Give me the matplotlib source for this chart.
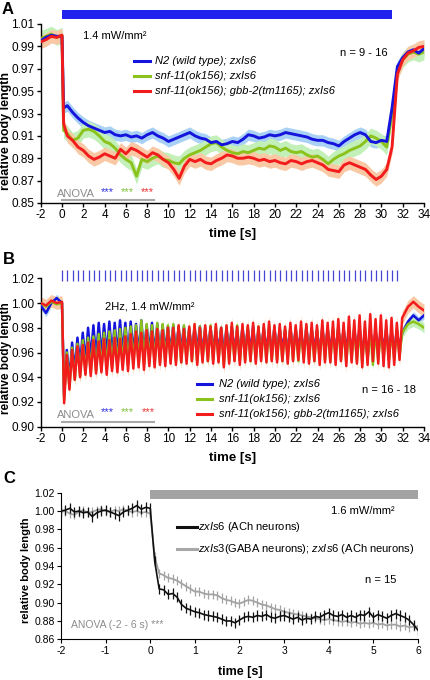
import numpy as np
import matplotlib
matplotlib.use('Agg')
import matplotlib.pyplot as plt
from matplotlib.patches import Rectangle
from matplotlib.lines import Line2D
from matplotlib.transforms import blended_transform_factory

plt.rcParams['font.family'] = ['Liberation Sans', 'DejaVu Sans']
plt.rcParams['mathtext.fontset'] = 'custom'
plt.rcParams['mathtext.rm'] = 'Liberation Sans'
plt.rcParams['mathtext.it'] = 'Liberation Sans:italic'
plt.rcParams['mathtext.bf'] = 'Liberation Sans:bold'
plt.rcParams['axes.unicode_minus'] = False

# ---------------- DATA ----------------
# Panel A: continuous light 0-31 s
stim_a = (0.0, 31.0)
time_a = np.concatenate([[-2.0, -1.5, -1.0, -0.5, 0.0, 0.15], np.arange(0.5, 34.01, 0.5)])
a_blue = [0.995, 0.998, 1.000, 0.999, 0.999, 0.935,
          0.937, 0.931, 0.926, 0.922, 0.919, 0.917, 0.915, 0.913, 0.914, 0.911,
          0.910, 0.911, 0.909, 0.910, 0.908, 0.911, 0.913, 0.910, 0.908, 0.905,
          0.907, 0.909, 0.911, 0.913, 0.910, 0.908, 0.907, 0.904, 0.905, 0.902,
          0.903, 0.905, 0.904, 0.907, 0.911, 0.910, 0.908, 0.909, 0.911, 0.910,
          0.911, 0.913, 0.912, 0.911, 0.910, 0.909, 0.907, 0.906, 0.906, 0.904,
          0.903, 0.901, 0.905, 0.908, 0.911, 0.913, 0.911, 0.905, 0.904, 0.906,
          0.905, 0.935, 0.972, 0.980, 0.985, 0.987, 0.984, 0.988]
a_green = [0.997, 0.999, 1.001, 0.998, 1.000, 0.915,
           0.912, 0.906, 0.908, 0.915, 0.916, 0.914, 0.910, 0.905, 0.903, 0.899,
           0.893, 0.889, 0.886, 0.874, 0.889, 0.887, 0.890, 0.892, 0.889, 0.888,
           0.886, 0.885, 0.890, 0.893, 0.895, 0.897, 0.900, 0.903, 0.904, 0.900,
           0.897, 0.895, 0.894, 0.896, 0.895, 0.897, 0.899, 0.898, 0.901, 0.900,
           0.897, 0.899, 0.896, 0.895, 0.896, 0.893, 0.891, 0.892, 0.889, 0.885,
           0.889, 0.892, 0.894, 0.897, 0.899, 0.901, 0.905, 0.910, 0.908, 0.905,
           0.900, 0.930, 0.968, 0.978, 0.983, 0.985, 0.983, 0.985]
a_red = [0.994, 0.996, 0.999, 0.998, 1.000, 0.921,
         0.910, 0.906, 0.900, 0.897, 0.892, 0.889, 0.891, 0.894, 0.892, 0.890,
         0.898, 0.894, 0.899, 0.897, 0.894, 0.891, 0.895, 0.893, 0.889, 0.886,
         0.880, 0.872, 0.883, 0.889, 0.887, 0.889, 0.886, 0.885, 0.888, 0.890,
         0.893, 0.892, 0.890, 0.890, 0.891, 0.890, 0.888, 0.889, 0.887, 0.888,
         0.886, 0.885, 0.888, 0.887, 0.885, 0.887, 0.888, 0.886, 0.884, 0.880,
         0.879, 0.878, 0.884, 0.886, 0.884, 0.882, 0.880, 0.875, 0.871, 0.874,
         0.880, 0.900, 0.965, 0.978, 0.984, 0.986, 0.989, 0.990]
sem_a = {'blue': 0.005, 'green': 0.007, 'red': 0.006}

# Panel B: 2 Hz pulses
pulse_times = np.arange(0.0, 32.0, 0.5)
pre_t_b = [-2.0, -1.5, -1.0, -0.5, 0.0]
post_t_b = [32.5, 33.0, 33.5, 34.0]
b_red_pre = [1.000, 0.998, 1.002, 1.000, 1.001]
b_red_trough = [0.919, 0.930, 0.938, 0.940, 0.942, 0.941, 0.943, 0.944, 0.942, 0.945,
                0.944, 0.946, 0.945, 0.947, 0.948, 0.946, 0.949, 0.948, 0.950, 0.949,
                0.951, 0.950, 0.952, 0.951, 0.953, 0.950, 0.952, 0.953, 0.951, 0.952,
                0.948, 0.951, 0.953, 0.950, 0.952, 0.953, 0.951, 0.953, 0.952, 0.953,
                0.952, 0.953, 0.951, 0.953, 0.954, 0.952, 0.951, 0.953, 0.950, 0.952,
                0.952, 0.950, 0.953, 0.949, 0.952, 0.951, 0.948, 0.950, 0.953, 0.951,
                0.949, 0.948, 0.950, 0.954]
b_red_peak = [0.958, 0.962, 0.965, 0.966, 0.968, 0.970, 0.969, 0.971, 0.970, 0.972,
              0.971, 0.973, 0.975, 0.977, 0.976, 0.978, 0.977, 0.979, 0.978, 0.980,
              0.980, 0.982, 0.979, 0.981, 0.983, 0.980, 0.982, 0.981, 0.983, 0.980,
              0.982, 0.984, 0.981, 0.983, 0.982, 0.984, 0.981, 0.983, 0.985, 0.982,
              0.983, 0.981, 0.984, 0.982, 0.985, 0.983, 0.984, 0.982, 0.986, 0.984,
              0.985, 0.987, 0.984, 0.989, 0.986, 0.990, 0.985, 0.991, 0.987, 0.990,
              0.986, 0.988, 0.984, 0.988]
b_red_post = [0.997, 1.001, 0.997, 0.994]

b_blue_pre = [0.998, 0.992, 1.000, 1.004, 1.000]
b_blue_trough = [0.925, 0.938, 0.945, 0.950, 0.953, 0.955, 0.956, 0.957, 0.958, 0.957,
                 0.958, 0.959, 0.958, 0.960, 0.959, 0.960, 0.961, 0.959, 0.960, 0.961,
                 0.960, 0.961, 0.962, 0.960, 0.961, 0.962, 0.960, 0.961, 0.962, 0.961,
                 0.960, 0.962, 0.961, 0.960, 0.962, 0.961, 0.960, 0.962, 0.961, 0.960,
                 0.961, 0.962, 0.960, 0.961, 0.962, 0.960, 0.961, 0.962, 0.960, 0.961,
                 0.962, 0.960, 0.961, 0.962, 0.960, 0.961, 0.958, 0.956, 0.960, 0.961,
                 0.962, 0.960, 0.961, 0.963]
b_blue_peak = [0.962, 0.968, 0.972, 0.976, 0.980, 0.982, 0.984, 0.983, 0.985, 0.984,
               0.986, 0.984, 0.985, 0.983, 0.986, 0.982, 0.984, 0.983, 0.982, 0.981,
               0.982, 0.980, 0.981, 0.979, 0.980, 0.981, 0.979, 0.980, 0.978, 0.980,
               0.979, 0.981, 0.978, 0.980, 0.979, 0.981, 0.978, 0.980, 0.979, 0.980,
               0.979, 0.978, 0.980, 0.979, 0.978, 0.980, 0.979, 0.978, 0.980, 0.979,
               0.978, 0.980, 0.979, 0.978, 0.979, 0.980, 0.978, 0.979, 0.977, 0.978,
               0.979, 0.977, 0.978, 0.976]
b_blue_post = [0.985, 0.990, 0.986, 0.990]

b_green_pre = [1.000, 0.997, 1.001, 0.999, 1.000]
b_green_trough = [0.922, 0.932, 0.938, 0.941, 0.943, 0.944, 0.945, 0.946, 0.947, 0.948,
                  0.948, 0.949, 0.950, 0.951, 0.950, 0.951, 0.952, 0.951, 0.952, 0.953,
                  0.952, 0.953, 0.952, 0.954, 0.953, 0.952, 0.954, 0.953, 0.954, 0.953,
                  0.950, 0.953, 0.954, 0.953, 0.954, 0.953, 0.954, 0.955, 0.953, 0.954,
                  0.954, 0.953, 0.955, 0.954, 0.953, 0.955, 0.954, 0.953, 0.955, 0.954,
                  0.953, 0.955, 0.954, 0.952, 0.954, 0.953, 0.951, 0.953, 0.950, 0.954,
                  0.955, 0.954, 0.955, 0.957]
b_green_peak = [0.960, 0.964, 0.967, 0.970, 0.972, 0.973, 0.975, 0.976, 0.977, 0.978,
                0.979, 0.980, 0.981, 0.982, 0.986, 0.983, 0.982, 0.984, 0.983, 0.982,
                0.983, 0.981, 0.982, 0.980, 0.982, 0.981, 0.980, 0.982, 0.981, 0.980,
                0.981, 0.980, 0.982, 0.980, 0.981, 0.979, 0.981, 0.980, 0.982, 0.980,
                0.980, 0.979, 0.981, 0.980, 0.979, 0.981, 0.980, 0.979, 0.981, 0.980,
                0.979, 0.981, 0.980, 0.979, 0.980, 0.978, 0.980, 0.979, 0.977, 0.978,
                0.979, 0.977, 0.978, 0.976]
b_green_post = [0.983, 0.985, 0.983, 0.980]
sem_b = {'blue': 0.003, 'green': 0.004, 'red': 0.005}

# Panel C
stim_c = (0.0, 6.0)
time_c = np.round(np.arange(-2.0, 6.001, 0.1), 1)
c_black = [1.000, 1.001, 1.003, 0.999, 1.000, 0.998, 0.999, 0.994, 0.998, 1.000,
           1.001, 0.999, 0.997, 0.995, 0.999, 1.001, 1.003, 1.006, 1.002, 1.004,
           1.003, 0.945, 0.915, 0.914, 0.909, 0.910, 0.906, 0.898, 0.894, 0.892,
           0.890, 0.889, 0.887, 0.886, 0.885, 0.884, 0.882, 0.880, 0.880, 0.878,
           0.881, 0.884, 0.885, 0.884, 0.886, 0.885, 0.887, 0.884, 0.883, 0.885,
           0.886, 0.884, 0.882, 0.884, 0.881, 0.883, 0.882, 0.885, 0.884, 0.887,
           0.889, 0.886, 0.885, 0.887, 0.884, 0.886, 0.884, 0.887, 0.886, 0.890,
           0.884, 0.887, 0.885, 0.883, 0.886, 0.888, 0.886, 0.884, 0.881, 0.876,
           0.870]
c_gray = [0.999, 1.000, 0.997, 0.996, 0.999, 1.001, 0.998, 0.999, 1.001, 1.002,
          1.000, 0.999, 1.001, 1.000, 1.002, 1.000, 0.999, 1.000, 0.998, 0.999,
          0.997, 0.950, 0.932, 0.930, 0.927, 0.926, 0.924, 0.921, 0.918, 0.915,
          0.912, 0.912, 0.910, 0.909, 0.909, 0.908, 0.905, 0.903, 0.902, 0.900,
          0.899, 0.901, 0.903, 0.902, 0.900, 0.898, 0.897, 0.895, 0.893, 0.892,
          0.890, 0.889, 0.888, 0.887, 0.886, 0.885, 0.884, 0.883, 0.882, 0.881,
          0.882, 0.881, 0.880, 0.879, 0.880, 0.878, 0.879, 0.877, 0.878, 0.877,
          0.878, 0.876, 0.877, 0.875, 0.876, 0.876, 0.874, 0.875, 0.873, 0.874,
          0.874]
err_c = {'black': 0.0055, 'gray': 0.005}

legend_ab = ['N2 (wild type); zxIs6', 'snf-11(ok156); zxIs6',
             'snf-11(ok156); gbb-2(tm1165); zxIs6']
legend_c = [r'$\mathit{zxIs6}$ (ACh neurons)',
            r'$\mathit{zxIs3}$(GABA neurons); $\mathit{zxIs6}$ (ACh neurons)']

# ---------------- STYLE ----------------
W, H = 431, 680
BLUE, GREEN, RED = '#1414dc', '#8cc21c', '#f21c1c'
BAND = {'blue': '#a9d1f6', 'green': '#c2f0b8', 'red': '#f9c8a4'}
LINE = {'blue': BLUE, 'green': GREEN, 'red': RED}
ANOVA_GRAY = '#8c8c8c'

fig = plt.figure(figsize=(W / 100, H / 100), dpi=100)


def rect(l, t, r, b):
    return [l / W, 1 - b / H, (r - l) / W, (b - t) / H]


def ftext(x, y, s, **kw):
    fig.text(x / W, 1 - y / H, s, **kw)


def fline(x0, x1, y, **kw):
    fig.add_artist(Line2D([x0 / W, x1 / W], [1 - y / H] * 2, transform=fig.transFigure, **kw))


def style_axes(ax, lw, fs, ticklen):
    for s in ['top', 'right']:
        ax.spines[s].set_visible(False)
    for s in ['left', 'bottom']:
        ax.spines[s].set_linewidth(lw)
    ax.tick_params(direction='out', length=ticklen, width=lw, labelsize=fs, pad=1.5)


def xlabel(x, baseline, fs):
    ftext(x, baseline, 'time [s]', fontsize=fs, fontweight='bold', ha='center', va='baseline')


def ylabel(right, ycenter, fs):
    ftext(right, ycenter, 'relative body length', fontsize=fs, fontweight='bold',
          rotation=90, ha='right', va='center')


axA = fig.add_axes(rect(40.7, 24, 424, 203))
axB = fig.add_axes(rect(40.7, 278.3, 424, 426.7))
axC = fig.add_axes(rect(61, 492.7, 418, 639.3))

# ---------------- Panel A ----------------
for key, vals in [('blue', a_blue), ('green', a_green), ('red', a_red)]:
    v = np.array(vals)
    axA.fill_between(time_a, v - sem_a[key], v + sem_a[key], color=BAND[key], lw=0, zorder=1)
for key, vals in [('green', a_green), ('blue', a_blue), ('red', a_red)]:
    axA.plot(time_a, vals, color=LINE[key], lw=2.1, zorder=3)
axA.set_xlim(-2, 34)
axA.set_ylim(0.85, 1.01)
axA.set_xticks(np.arange(-2, 35, 2))
axA.set_yticks(np.arange(0.85, 1.0101, 0.02))
axA.yaxis.set_major_formatter(plt.FormatStrFormatter('%.2f'))
style_axes(axA, 1.0, 8.5, 3)
xlabel(233, 237.5, 9.5)
ylabel(12, 131, 9)
trA = blended_transform_factory(axA.transData, axA.transAxes)
axA.add_patch(Rectangle((stim_a[0], 1.028), stim_a[1] - stim_a[0], 0.05, transform=trA,
                        color='#2222ee', clip_on=False, lw=0))
axA.plot([0, 8.6], [0.8524, 0.8524], color='#a8a8a8', lw=1.5, clip_on=False, zorder=4)

ftext(2, 14, 'A', fontsize=12, fontweight='bold')
ftext(83, 39, '1.4 mW/mm²', fontsize=8)
ftext(340, 56, 'n = 9 - 16', fontsize=8)
for i, (key, lab) in enumerate(zip(['blue', 'green', 'red'], legend_ab)):
    y = [61, 76, 91][i]
    fline(134, 150, y, color=LINE[key], lw=2.2)
    ftext(155, y, lab, fontsize=8, style='italic', va='center')
ftext(57, 197, 'ANOVA', fontsize=8, color=ANOVA_GRAY)
for x, c in [(101, '#3030e0'), (121, '#80c040'), (141, '#ee3030')]:
    ftext(x, 195, '***', fontsize=8, color=c)

# ---------------- Panel B ----------------
tb = np.ravel(np.column_stack([pulse_times + 0.2, pulse_times + 0.45]))
time_b = np.concatenate([pre_t_b, tb, post_t_b])


def build_b(pre, trough, peak, post):
    return np.concatenate([pre, np.ravel(np.column_stack([trough, peak])), post])


b_series = {
    'blue': build_b(b_blue_pre, b_blue_trough, b_blue_peak, b_blue_post),
    'green': build_b(b_green_pre, b_green_trough, b_green_peak, b_green_post),
    'red': build_b(b_red_pre, b_red_trough, b_red_peak, b_red_post),
}
for key in ['blue', 'green', 'red']:
    v = b_series[key]
    axB.fill_between(time_b, v - sem_b[key], v + sem_b[key], color=BAND[key], lw=0, zorder=1)
for key in ['blue', 'green', 'red']:
    axB.plot(time_b, b_series[key], color=LINE[key], lw=1.8, zorder=3)
axB.set_xlim(-2, 34)
axB.set_ylim(0.90, 1.02)
axB.set_xticks(np.arange(-2, 35, 2))
axB.set_yticks(np.arange(0.90, 1.0201, 0.02))
axB.yaxis.set_major_formatter(plt.FormatStrFormatter('%.2f'))
style_axes(axB, 1.0, 8.5, 3)
xlabel(233, 461, 9.5)
ylabel(12, 358, 8.5)
trB = blended_transform_factory(axB.transData, axB.transAxes)
axB.vlines(pulse_times, 0.982, 1.056, transform=trB, color='#4646d2', lw=0.9, clip_on=False)
axB.plot([0, 8.6], [0.904, 0.904], color='#a8a8a8', lw=1.5, clip_on=False, zorder=4)

ftext(3, 264, 'B', fontsize=12, fontweight='bold')
ftext(105, 309.5, '2Hz, 1.4 mW/mm²', fontsize=8)
ftext(362, 393, 'n = 16 - 18', fontsize=8)
for i, (key, lab) in enumerate(zip(['blue', 'green', 'red'], legend_ab)):
    y = [384, 399, 414][i]
    fline(197, 212, y, color=LINE[key], lw=2.2)
    ftext(219, y, lab, fontsize=8, style='italic', va='center')
ftext(57, 417.7, 'ANOVA', fontsize=8, color=ANOVA_GRAY)
for x, c in [(101, '#3030e0'), (121, '#80c040'), (141.5, '#ee3030')]:
    ftext(x, 414.7, '***', fontsize=8, color=c)

# ---------------- Panel C ----------------
axC.errorbar(time_c, c_gray, yerr=err_c['gray'], color='#a3a3a3', lw=1.3,
             elinewidth=0.9, capsize=0, zorder=2)
axC.errorbar(time_c, c_black, yerr=err_c['black'], color='#111111', lw=1.2,
             elinewidth=0.9, capsize=0, zorder=3)
axC.set_xlim(-2, 6)
axC.set_ylim(0.86, 1.02)
axC.set_xticks(np.arange(-2, 7, 1))
axC.set_yticks(np.arange(0.86, 1.0201, 0.02))
axC.yaxis.set_major_formatter(plt.FormatStrFormatter('%.2f'))
style_axes(axC, 0.8, 7.5, 3)
xlabel(240, 675.5, 9)
ylabel(31, 570, 8)
axC.add_patch(Rectangle((stim_c[0], 1.0131), stim_c[1] - stim_c[0], 0.0098,
                        color='#a3a3a3', clip_on=False, lw=0))

ftext(3, 483, 'C', fontsize=12, fontweight='bold')
ftext(331, 514, '1.6 mW/mm²', fontsize=8)
ftext(365, 583, 'n = 15', fontsize=8)
for i, (c, lab) in enumerate(zip(['#111111', '#a8a8a8'], legend_c)):
    y = [526.7, 548.7][i]
    fline(177, 197, y, color=c, lw=2.2)
    ftext(198, y, lab, fontsize=8, va='center')
ftext(71, 628, 'ANOVA (-2 - 6 s) ***', fontsize=7.5, color=ANOVA_GRAY)

fig.savefig('out.png', dpi=100)
